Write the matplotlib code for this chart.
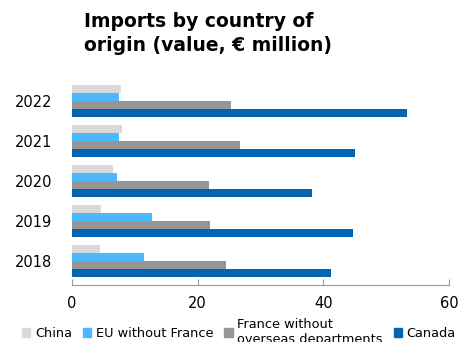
import matplotlib.pyplot as plt
from matplotlib.patches import Patch
import numpy as np

years = ['2018', '2019', '2020', '2021', '2022']
china = [4.4, 4.7, 6.6, 8.0, 7.8]
eu = [11.4, 12.8, 7.1, 7.5, 7.5]
france = [24.6, 22.0, 21.8, 26.8, 25.4]
canada = [41.3, 44.8, 38.2, 45.0, 53.4]

names = ['China', 'EU without France', 'France without\noverseas departments', 'Canada']
colors = ['#d9d9d9', '#4db8ff', '#969696', '#0066b3']
series = [china, eu, france, canada]

fig = plt.figure(figsize=(4.58, 3.42), dpi=100)
ax = fig.add_axes([0.157, 0.1667, 0.823, 0.609])

y = np.arange(len(years))
h = 0.2
for i, (vals, c) in enumerate(zip(series, colors)):
    ax.barh(y + 0.3 - i * h, vals, height=h, color=c)

ax.set_xlim(0, 60)
ax.set_ylim(-0.6, 4.6)
ax.set_xticks([0, 20, 40, 60])
ax.set_yticks(y)
ax.set_yticklabels(years)
for s in ['top', 'right', 'left']:
    ax.spines[s].set_visible(False)
ax.spines['bottom'].set_color('#999999')
ax.tick_params(axis='x', direction='in', length=4, color='#999999', labelsize=10.5, pad=8)
ax.tick_params(axis='y', length=0, labelsize=10.5, pad=14)

fig.text(0.183, 0.965, 'Imports by country of\norigin (value, € million)',
         ha='left', va='top', fontsize=13.5, fontweight='bold', linespacing=1.35)

handles = [Patch(color=c) for c in colors]
fig.legend(handles, names, loc='center left', bbox_to_anchor=(0.048, 0.03), ncol=4,
           frameon=False, fontsize=9.3, handlelength=0.65, handleheight=0.65,
           handletextpad=0.35, columnspacing=0.85, labelspacing=0.0,
           borderpad=0.0, borderaxespad=0.0)

fig.savefig('out.png', dpi=100)
